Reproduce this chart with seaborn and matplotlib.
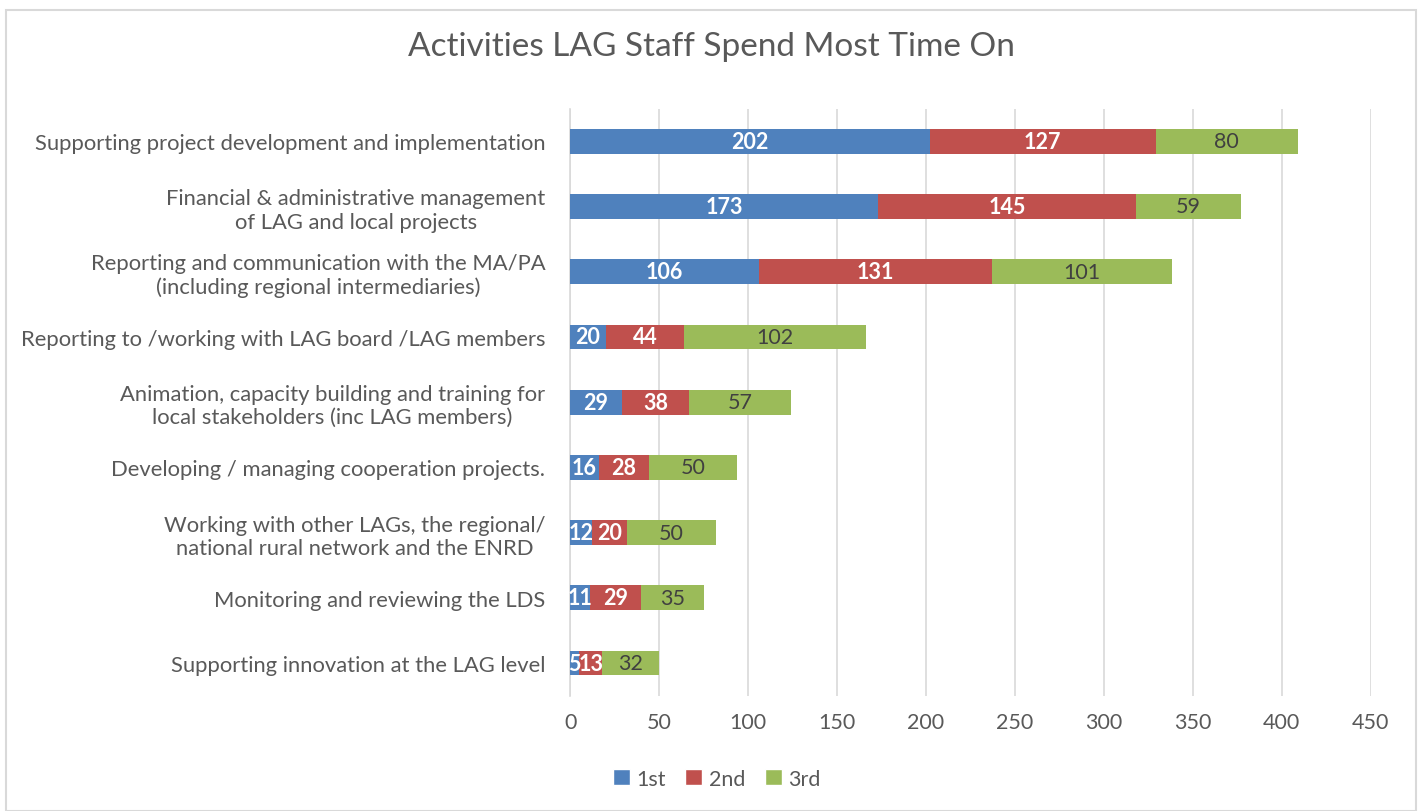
import numpy as np
import pandas as pd
import matplotlib.pyplot as plt
import seaborn as sns
from matplotlib.patches import Patch, Rectangle

categories = [
    "Supporting project development and implementation",
    "Financial & administrative management\nof LAG and local projects",
    "Reporting and communication with the MA/PA\n(including regional intermediaries)",
    "Reporting to /working with LAG board /LAG members",
    "Animation, capacity building and training for\nlocal stakeholders (inc LAG members)",
    "Developing / managing cooperation projects.",
    "Working with other LAGs, the regional/\nnational rural network and the ENRD",
    "Monitoring and reviewing the LDS",
    "Supporting innovation at the LAG level",
]
first = [202, 173, 106, 20, 29, 16, 12, 11, 5]
second = [127, 145, 131, 44, 38, 28, 20, 29, 13]
third = [80, 59, 101, 102, 57, 50, 50, 35, 32]
series_names = ["1st", "2nd", "3rd"]
colors = ["#4F81BD", "#C0504D", "#9BBB59"]

df = pd.DataFrame({"cat": categories, "1st": first, "2nd": second, "3rd": third})
df["c1"] = df["1st"]
df["c2"] = df["1st"] + df["2nd"]
df["c3"] = df["c2"] + df["3rd"]

sns.set_style("white")
plt.rcParams["font.family"] = ["Lato", "DejaVu Sans"]

fig = plt.figure(figsize=(14.22, 8.12), dpi=100)
ax = fig.add_axes([0.401, 0.142, 0.563, 0.723])

# stacked bars: draw totals first, then overlay smaller sums
for col, color in zip(["c3", "c2", "c1"], colors[::-1]):
    sns.barplot(data=df, x=col, y="cat", orient="h", color=color, width=0.38,
                saturation=1, ax=ax, linewidth=0, zorder=3)

# segment labels
fs = 15.5
for i, row in df.iterrows():
    ax.text(row["c1"] - row["1st"] / 2, i, str(row["1st"]), ha="center", va="center",
            color="white", fontweight="bold", fontsize=fs, zorder=4)
    ax.text(row["c2"] - row["2nd"] / 2, i, str(row["2nd"]), ha="center", va="center",
            color="white", fontweight="bold", fontsize=fs, zorder=4)
    ax.text(row["c3"] - row["3rd"] / 2, i, str(row["3rd"]), ha="center", va="center",
            color="#404040", fontsize=fs, zorder=4)

ax.set_xlim(0, 450)
ax.set_xticks(np.arange(0, 451, 50))
ax.set_ylim(8.5, -0.5)
ax.grid(axis="x", color="#D9D9D9", linewidth=1.2, zorder=0)
ax.set_axisbelow(True)
for s in ["top", "right", "bottom"]:
    ax.spines[s].set_visible(False)
ax.spines["left"].set_color("#D9D9D9")
ax.spines["left"].set_linewidth(1.2)
ax.set_xlabel("")
ax.set_ylabel("")
ax.tick_params(axis="x", length=0, labelsize=15.5, labelcolor="#595959", pad=12)
ax.tick_params(axis="y", length=0, labelsize=15.8, labelcolor="#595959", pad=18)
for lbl in ax.get_yticklabels():
    lbl.set_multialignment("center")

fig.suptitle("Activities LAG Staff Spend Most Time On", x=0.500, y=0.960,
             fontsize=24, color="#595959")

handles = [Patch(facecolor=c, label=n) for c, n in zip(colors, series_names)]
fig.legend(handles=handles, loc="center", bbox_to_anchor=(0.504, 0.040), ncol=3,
           frameon=False, fontsize=15.5, handlelength=0.8, handleheight=0.8,
           handletextpad=0.3, columnspacing=0.9, labelcolor="#595959")

# chart border
fig.patches.append(Rectangle((0.004, 0.0), 0.992, 0.986, transform=fig.transFigure,
                             fill=False, edgecolor="#D9D9D9", linewidth=1.5))

fig.savefig("out.png", dpi=100)
